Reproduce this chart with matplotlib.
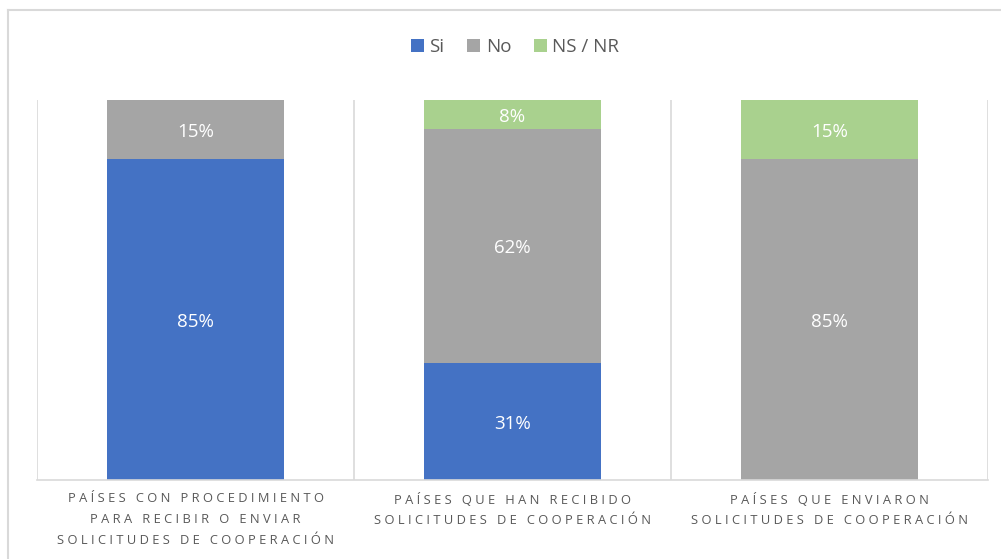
import matplotlib.pyplot as plt
import numpy as np
from matplotlib.lines import Line2D

plt.rcParams['font.family'] = ['Open Sans', 'DejaVu Sans']

categories = ["PAÍSES CON PROCEDIMIENTO\nPARA RECIBIR O ENVIAR\nSOLICITUDES DE COOPERACIÓN",
              "PAÍSES QUE HAN RECIBIDO\nSOLICITUDES DE COOPERACIÓN",
              "PAÍSES QUE ENVIARON\nSOLICITUDES DE COOPERACIÓN"]
series = ["Si", "No", "NS / NR"]
si = [84.6, 30.8, 0.0]
no = [15.4, 61.5, 84.6]
nsnr = [0.0, 7.7, 15.4]
colors = ["#4472C4", "#A5A5A5", "#A9D18E"]

def spaced(s):
    # imitate the letter spacing of the category labels
    return "\n".join(" ".join(list(line)) for line in s.split("\n"))

fig = plt.figure(figsize=(10.01, 5.59), dpi=100)
ax = fig.add_axes([37/1001, 79/559, 951/1001, 380/559])

x = np.arange(len(categories))
bottom = np.zeros(len(categories))
for name, vals, col in zip(series, [si, no, nsnr], colors):
    vals = np.array(vals)
    ax.bar(x, vals, width=0.56, bottom=bottom, color=col, label=name)
    for xi, b, v in zip(x, bottom, vals):
        if v > 0:
            ax.text(xi, b + v/2 - 0.6, f"{v:.0f}%", ha="center", va="center",
                    color="white", fontsize=13.5)
    bottom += vals

ax.set_xlim(-0.5, 2.5)
ax.set_ylim(0, 100)
for s in ["top", "right", "left"]:
    ax.spines[s].set_visible(False)
ax.spines["bottom"].set_color("#D9D9D9")
ax.spines["bottom"].set_linewidth(1.2)
ax.vlines([-0.5, 0.5, 1.5, 2.5], 0, 100, color="#D9D9D9", linewidth=1.2)
ax.set_yticks([])
ax.set_xticks(x)
ax.set_xticklabels([spaced(c) for c in categories], fontsize=9.3, color="#595959",
                   linespacing=1.78)
ax.tick_params(axis="x", length=0, pad=9)

ax.legend(loc="center", bbox_to_anchor=(515/1001, 1 - 47/559), bbox_transform=fig.transFigure,
          ncol=3, frameon=False, fontsize=13.5, handlelength=0.7, handleheight=0.7,
          handletextpad=0.3, columnspacing=1.2, labelcolor="#595959")

# outer chart frame
fig.add_artist(Line2D([8/1001, 8/1001], [0, 1 - 10/559], color="#D9D9D9", linewidth=1.5))
fig.add_artist(Line2D([8/1001, 1], [1 - 10/559, 1 - 10/559], color="#D9D9D9", linewidth=1.5))

fig.savefig("out.png", dpi=100)
